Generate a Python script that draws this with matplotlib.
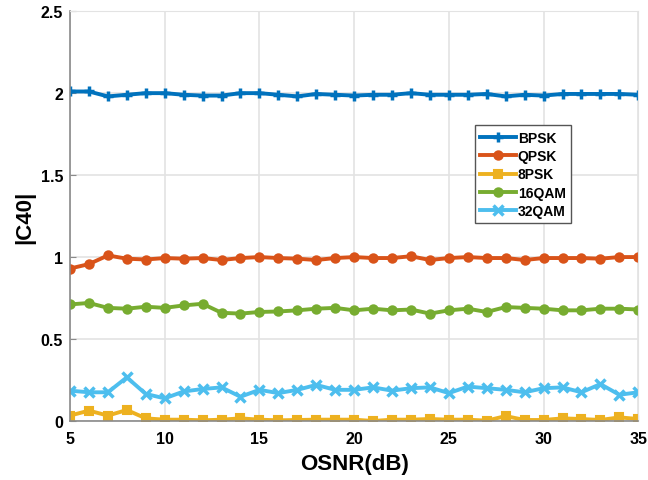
import matplotlib
matplotlib.use("Agg")
import matplotlib.pyplot as plt
import numpy as np

plt.rcParams['font.family'] = ['Liberation Sans', 'DejaVu Sans']

osnr = list(range(5, 36))
bpsk = [2.01, 2.01, 1.98, 1.99, 2.0, 2.0, 1.99, 1.985, 1.985, 2.0, 2.0, 1.99, 1.98, 1.995, 1.99,
        1.985, 1.99, 1.99, 2.0, 1.99, 1.99, 1.99, 1.995, 1.98, 1.99, 1.985, 1.995, 1.995, 1.995, 1.995, 1.99]
qpsk = [0.93, 0.957, 1.01, 0.99, 0.985, 0.994, 0.99, 0.994, 0.982, 0.994, 1.0, 0.994, 0.99, 0.982, 0.994,
        1.0, 0.994, 0.994, 1.005, 0.982, 0.994, 1.0, 0.994, 0.994, 0.982, 0.994, 0.994, 0.994, 0.99, 1.0, 1.0]
psk8 = [0.033, 0.063, 0.033, 0.067, 0.016, 0.008, 0.008, 0.004, 0.008, 0.016, 0.008, 0.004, 0.006, 0.008, 0.008,
        0.008, 0.0, 0.008, 0.008, 0.012, 0.008, 0.008, 0.002, 0.03, 0.006, 0.006, 0.016, 0.012, 0.006, 0.022, 0.012]
qam16 = [0.711, 0.72, 0.69, 0.685, 0.697, 0.69, 0.705, 0.715, 0.66, 0.655, 0.665, 0.668, 0.675, 0.685, 0.69,
         0.675, 0.685, 0.675, 0.68, 0.655, 0.675, 0.685, 0.665, 0.695, 0.69, 0.685, 0.675, 0.675, 0.685, 0.685, 0.68]
qam32 = [0.185, 0.175, 0.175, 0.266, 0.165, 0.138, 0.18, 0.195, 0.205, 0.148, 0.19, 0.17, 0.19, 0.22, 0.19,
         0.19, 0.205, 0.185, 0.2, 0.205, 0.17, 0.21, 0.2, 0.19, 0.175, 0.2, 0.205, 0.175, 0.225, 0.16, 0.175]

labels = ["BPSK", "QPSK", "8PSK", "16QAM", "32QAM"]
colors = ["#0072BD", "#D95319", "#EDB120", "#77AC30", "#4DBEEE"]
markers = ["+", "o", "s", "o", "x"]

fig = plt.figure(figsize=(6.48, 4.81), dpi=100)
ax = fig.add_axes([0.108, 0.1227, 0.877, 0.852])

series = [bpsk, qpsk, psk8, qam16, qam32]
for ys, lab, c, m in zip(series, labels, colors, markers):
    if m in ("+", "x"):
        ax.plot(osnr, ys, color=c, marker=m, markersize=6.5, markeredgewidth=2.5, linewidth=2.8, label=lab)
    else:
        ax.plot(osnr, ys, color=c, marker=m, markersize=6, markerfacecolor=c, markeredgecolor=c,
                markeredgewidth=1.5, linewidth=2.8, label=lab)

ax.set_xlim(5, 35)
ax.set_ylim(0, 2.5)
ax.set_xticks([5, 10, 15, 20, 25, 30, 35])
ax.set_yticks([0, 0.5, 1, 1.5, 2, 2.5])
ax.set_yticklabels(["0", "0.5", "1", "1.5", "2", "2.5"])
ax.grid(True, color="#e3e3e3", linewidth=1.2)
ax.set_axisbelow(True)
for s in ["top", "right"]:
    ax.spines[s].set_color("#e3e3e3")
for s in ["left", "bottom"]:
    ax.spines[s].set_color("#8a8a8a")
    ax.spines[s].set_linewidth(1.2)
ax.tick_params(direction="in", length=4, color="#8a8a8a", labelsize=11.5, pad=5)
ax.tick_params(axis="x", pad=7)
for t in ax.get_xticklabels() + ax.get_yticklabels():
    t.set_fontweight("bold")

ax.set_xlabel("OSNR(dB)", fontsize=16, fontweight="bold", labelpad=5)
ax.set_ylabel("|C40|", fontsize=16, fontweight="bold", labelpad=4)

leg = ax.legend(loc="upper left", bbox_to_anchor=(0.700, 0.738), prop={"weight": "bold", "size": 10},
                handlelength=2.6, handletextpad=0.1, labelspacing=0.3, borderpad=0.4,
                fancybox=False, framealpha=1, edgecolor="#555555")
leg.get_frame().set_linewidth(1.0)

fig.savefig("out.png", dpi=100)
